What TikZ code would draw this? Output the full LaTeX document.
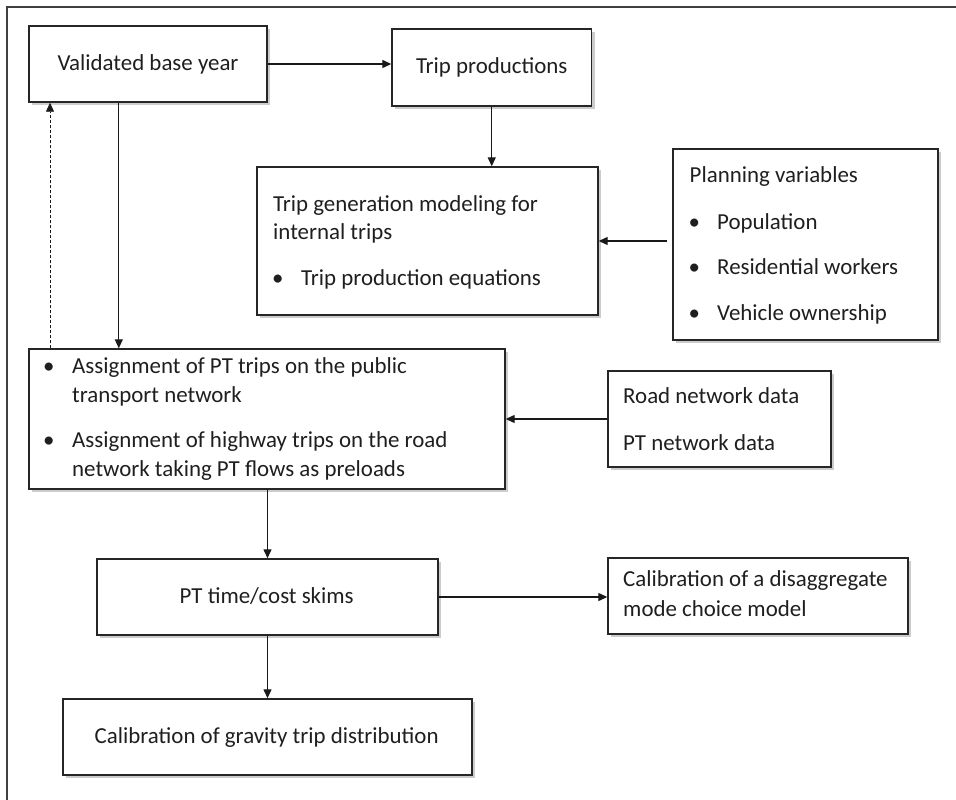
\documentclass[tikz,border=0pt]{standalone}
\usepackage{fontspec}
\setmainfont{Carlito}
\usetikzlibrary{arrows.meta,shadows,calc}
\begin{document}
\begin{tikzpicture}[x=1pt,y=-1pt,
  font=\fontsize{22.9}{27}\selectfont,
  box/.style={draw=black!85,line width=1.4pt,fill=white,rectangle,inner sep=0pt,
    drop shadow={shadow xshift=3pt,shadow yshift=-3pt,fill=black!40,opacity=.5}},
  txt/.style={anchor=base west,inner sep=0pt,text=black!88},
  ctxt/.style={anchor=base,inner sep=0pt,text=black!88},
  arr/.style={draw=black!90,line width=1.25pt,-{Triangle[length=9pt,width=8pt]}},
  darr/.style={arr,dashed,dash pattern=on 3pt off 2pt,line width=0.8pt}]
\useasboundingbox (0,0) rectangle (956,800);
% partial frame
\draw[black!75,line width=1.2pt] (7,800) -- (7,7) -- (956,7);
% boxes
\node[box,minimum width=238,minimum height=76] (vby) at (148,64) {};
\node[box,minimum width=199.5,minimum height=77] (tp) at (491.75,67.5) {};
\node[box,minimum width=341,minimum height=148] (tg) at (427.5,241) {};
\node[box,minimum width=265,minimum height=191] (pv) at (805.5,244.5) {};
\node[box,minimum width=476,minimum height=140] (as) at (267,419) {};
\node[box,minimum width=223,minimum height=96] (rd) at (719.5,419) {};
\node[box,minimum width=341,minimum height=76] (pt) at (267.5,597) {};
\node[box,minimum width=300,minimum height=76] (cd) at (758,596) {};
\node[box,minimum width=409,minimum height=76] (gr) at (267.5,737) {};
% texts
\node[ctxt] (t1) at (148,70.5) {Validated base year};
\node[ctxt] (t2) at (491.75,73.5) {Trip productions};
\node[txt] (t3) at (273,211) {Trip generation modeling for};
\node[txt] (t4) at (273,239) {internal trips};
\node[txt] (t5) at (272,285) {\textbullet};
\node[txt] (t6) at (301,285) {Trip production equations};
\node[txt] (t7) at (689.5,182) {Planning variables};
\node[txt] (t8) at (688.5,229) {\textbullet};
\node[txt] (t9) at (717,229) {Population};
\node[txt] (t10) at (688.5,274) {\textbullet};
\node[txt] (t11) at (717,274) {Residential workers};
\node[txt] (t12) at (688.5,320) {\textbullet};
\node[txt] (t13) at (717,320) {Vehicle ownership};
\node[txt] (t14) at (43,373) {\textbullet};
\node[txt] (t15) at (72,373) {Assignment of PT trips on the public};
\node[txt] (t16) at (72,402) {transport network};
\node[txt] (t17) at (43,447.5) {\textbullet};
\node[txt] (t18) at (72,447.5) {Assignment of highway trips on the road};
\node[txt] (t19) at (72,476.5) {network taking PT flows as preloads};
\node[txt] (t20) at (623,403.5) {Road network data};
\node[txt] (t21) at (623,450) {PT network data};
\node[ctxt] (t22) at (266.7,603.5) {PT time/cost skims};
\node[txt] (t23) at (623,586.5) {Calibration of a disaggregate};
\node[txt] (t24) at (623,616) {mode choice model};
\node[ctxt] (t25) at (266.7,743.5) {Calibration of gravity trip distribution};
% connectors
\draw[arr] (vby.east) -- (vby.east -| tp.west);
\draw[arr] (tp.south) -- (tp.south |- tg.north);
\draw[arr] ([xshift=-5pt]pv.west |- tg.east) -- (tg.east);
\coordinate (c1) at ($(vby.south west)+(90.5,0)$);
\draw[arr] (c1) -- (c1 |- as.north);
\coordinate (c2) at ($(as.north west)+(21.7,0)$);
\draw[darr] (c2) -- (c2 |- vby.south);
\draw[arr] (rd.west) -- (rd.west -| as.east);
\draw[arr] (pt.north |- as.south) -- (pt.north);
\draw[arr] (pt.east) -- (pt.east -| cd.west);
\draw[arr] (pt.south) -- (pt.south |- gr.north);
\end{tikzpicture}
\end{document}
